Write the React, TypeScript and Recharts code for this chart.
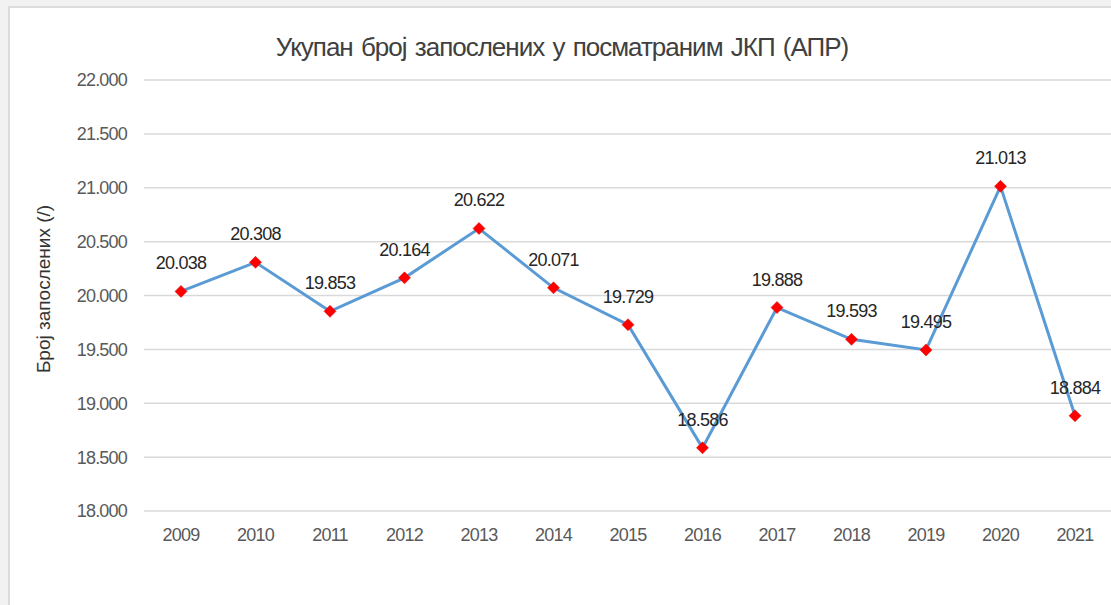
import React from 'react';
import { LineChart, Line, XAxis, YAxis, CartesianGrid, LabelList, Label } from 'recharts';

const years = ['2009', '2010', '2011', '2012', '2013', '2014', '2015', '2016', '2017', '2018', '2019', '2020', '2021'];
const employees = [20038, 20308, 19853, 20164, 20622, 20071, 19729, 18586, 19888, 19593, 19495, 21013, 18884];
const yTicks = [18000, 18500, 19000, 19500, 20000, 20500, 21000, 21500, 22000];

const title = 'Укупан број запослених у посматраним ЈКП (АПР)';
const yTitle = 'Број запослених (/)';

const data = years.map((y, i) => ({ year: y, value: employees[i] }));

const fmt = (v: number) => {
  const th = Math.floor(v / 1000);
  const rest = String(Math.round(v % 1000)).padStart(3, '0');
  return `${th}.${rest}`;
};

const FONT = '"Liberation Sans", Arial, sans-serif';

const Diamond = (props: any) => {
  const { cx, cy } = props;
  if (cx == null || cy == null) return null;
  const r = 6;
  return (
    <path
      d={`M${cx},${cy - r} L${cx + r},${cy} L${cx},${cy + r} L${cx - r},${cy} Z`}
      fill="#ff0000"
      stroke="#e00000"
      strokeWidth={0.5}
    />
  );
};

export default function App() {
  return (
    <div style={{ position: 'absolute', left: 0, top: 0, width: 1111, height: 605, overflow: 'hidden', background: '#f2f2f3' }}>
      <div
        style={{
          position: 'absolute',
          left: 8,
          top: 6,
          width: 1200,
          height: 700,
          background: '#ffffff',
          border: '2px solid #dcdcdc',
        }}
      />
      <div
        style={{
          position: 'absolute',
          left: 0,
          top: 30,
          width: 1124,
          textAlign: 'center',
          fontFamily: FONT,
          fontSize: 26,
          letterSpacing: -1,
          wordSpacing: 2,
          color: '#404040',
          lineHeight: '34px',
          whiteSpace: 'nowrap',
        }}
      >
        {title}
      </div>
      <div style={{ position: 'absolute', left: 0, top: 0 }}>
        <LineChart
          width={1112}
          height={605}
          data={data}
          margin={{ top: 80, right: 0, bottom: 64, left: 0 }}
        >
          <CartesianGrid vertical={false} stroke="#d9d9d9" strokeWidth={1.5} />
          <XAxis
            dataKey="year"
            axisLine={false}
            tickLine={false}
            tickSize={0}
            tickMargin={17}
            height={30}
            padding={{ left: 37, right: 37 }}
            interval={0}
            tick={{ fill: '#595959', fontSize: 18, fontFamily: FONT, letterSpacing: -0.8 }}
          />
          <YAxis
            type="number"
            domain={[18000, 22000]}
            ticks={yTicks}
            tickFormatter={fmt}
            axisLine={false}
            tickLine={false}
            tickSize={0}
            tickMargin={17}
            width={144}
            interval={0}
            tick={{ fill: '#595959', fontSize: 18, fontFamily: FONT, letterSpacing: -0.8 }}
          >
            <Label
              content={() => (
                <text
                  x={43}
                  y={289}
                  transform="rotate(-90 43 289)"
                  textAnchor="middle"
                  dominantBaseline="central"
                  fill="#333333"
                  fontSize={19}
                  fontFamily={FONT}
                >
                  {yTitle}
                </text>
              )}
            />
          </YAxis>
          <Line
            type="linear"
            dataKey="value"
            stroke="#5b9bd5"
            strokeWidth={3}
            dot={<Diamond />}
            activeDot={false}
            isAnimationActive={false}
          >
            <LabelList
              dataKey="value"
              position="top"
              offset={22}
              formatter={(v: any) => fmt(Number(v))}
              fill="#262626"
              fontSize={18}
              fontFamily={FONT}
              style={{ letterSpacing: -0.8 }}
            />
          </Line>
        </LineChart>
      </div>
    </div>
  );
}
